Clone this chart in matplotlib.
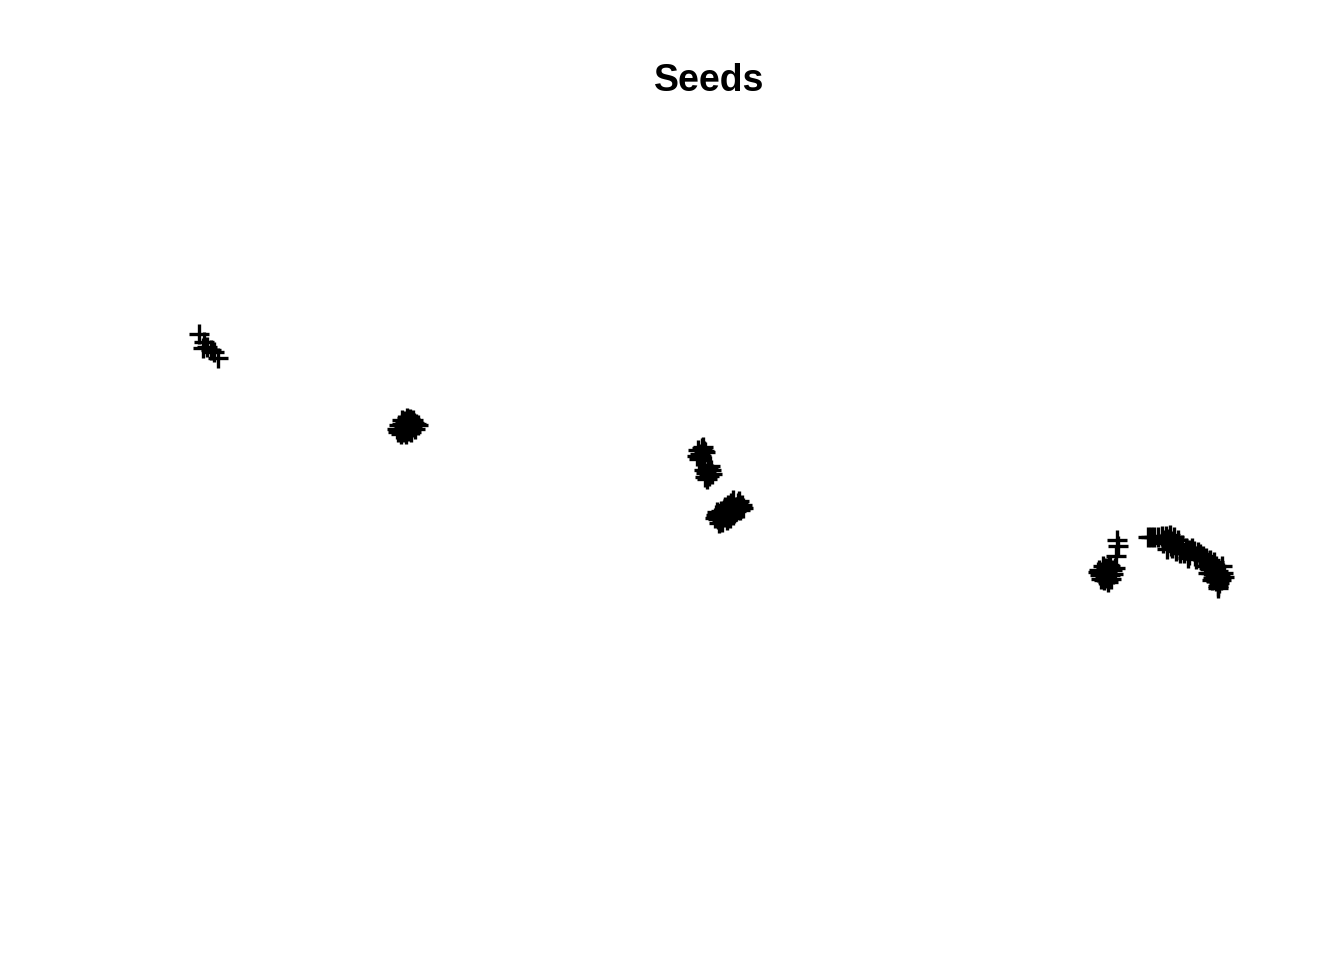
"""Seeds scatter, plus markers, no axes"""
import matplotlib.pyplot as plt

# point positions (x to the right, y downwards)
seed_x = [199, 204, 207, 211, 214, 218, 203,
          # group 2
          402, 406, 410, 404, 408, 400, 412, 416, 398, 404, 407, 413, 401,
          399, 403, 409, 415, 411, 405, 397, 410, 418, 406, 402, 414,
          # group 3 upper
          702, 698, 705, 700, 697, 704, 701, 699, 703,
          708, 704, 711, 706, 712, 709, 705, 707, 710,
          # group 3 lower
          733, 738, 728, 735, 724, 730, 740, 720, 726, 718, 722, 716, 742,
          731, 736, 729, 725, 733, 721, 727, 719, 737, 730, 723, 734, 741,
          739, 743, 717, 715, 732, 727,
          # group 4 left
          1117, 1118, 1116, 1110, 1106, 1102, 1110, 1105, 1108,
          1100, 1103, 1112, 1098, 1107, 1104, 1109, 1101, 1113, 1115,
          1099, 1111,
          # group 4 arc
          1148, 1151, 1154, 1158, 1162, 1166, 1170, 1174, 1178, 1165,
          1169, 1173, 1177, 1163, 1171, 1176, 1180, 1167, 1182, 1186,
          1190, 1194, 1198, 1184, 1189, 1195, 1200, 1187, 1192, 1203,
          1206, 1210, 1214, 1208, 1212, 1216, 1210, 1214, 1218, 1211,
          1215, 1219, 1213, 1217, 1220, 1216, 1219, 1218,
          1180, 1188, 1176, 1196, 1205, 1208, 1222, 1223, 1212, 1221,
          1209, 1224, 1218, 1172]
seed_y = [334, 342, 347, 350, 352, 358, 348,
          # group 2
          420, 422, 424, 426, 428, 430, 427, 424, 432, 432, 418, 420, 434,
          425, 429, 431, 429, 432, 421, 429, 419, 425, 434, 424, 423,
          # group 3 upper
          448, 450, 452, 454, 456, 451, 456, 459, 447,
          468, 470, 470, 473, 474, 476, 477, 479, 466,
          # group 3 lower
          500, 503, 505, 507, 510, 512, 510, 514, 517, 519, 522, 515, 505,
          503, 511, 509, 507, 515, 511, 520, 523, 507, 518, 517, 513, 508,
          501, 508, 512, 518, 505, 510,
          # group 4 left
          540, 546, 556, 566, 568, 572, 575, 578, 582,
          575, 566, 570, 572, 573, 580, 565, 579, 574, 568,
          570, 579,
          # group 4 arc
          537, 537, 537, 537, 536, 536, 535, 537, 540, 540,
          539, 541, 544, 543, 546, 548, 546, 549, 545, 548,
          550, 551, 552, 553, 555, 556, 554, 550, 548, 556,
          558, 560, 562, 563, 565, 566, 569, 570, 571, 573,
          575, 574, 578, 578, 576, 581, 583, 586,
          553, 558, 551, 559, 566, 573, 566, 573, 580, 580,
          568, 577, 588, 548]

fig = plt.figure(figsize=(13.44, 9.6), dpi=100)
ax = fig.add_axes([0, 0, 1, 1])
ax.plot(seed_x, seed_y, linestyle='none', marker='+', color='black',
        markersize=14.5, markeredgewidth=2.4)
ax.set_xlim(0, 1344)
ax.set_ylim(960, 0)
ax.axis('off')

fig.text(709 / 1344, 1 - 81 / 960, 'Seeds', ha='center', va='center',
         fontsize=27, fontweight='bold', family='Liberation Sans')

plt.savefig('out.png', dpi=100)
plt.close()
